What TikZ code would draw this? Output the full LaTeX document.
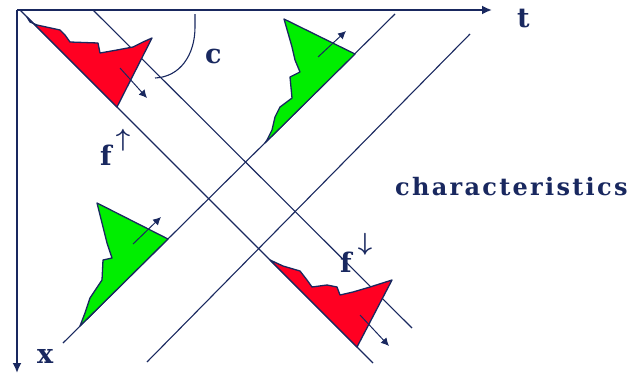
\documentclass[tikz,border=0pt]{standalone}
\usepackage{fontspec}
\setmainfont{DejaVu Serif}
\usetikzlibrary{arrows.meta}
\definecolor{navy}{RGB}{25,40,95}
\definecolor{redfill}{RGB}{255,0,34}
\definecolor{greenfill}{RGB}{0,238,0}
\tikzset{
  axisline/.style={navy, line width=1.8pt, -{Latex[length=10pt,width=9pt]}},
  charline/.style={navy, line width=1.1pt},
  redtri/.style={fill=redfill, draw=navy, line width=1.3pt, line join=round},
  greentri/.style={fill=greenfill, draw=navy, line width=1.3pt, line join=round},
  motion/.style={navy, line width=1pt, -{Latex[length=8pt,width=8pt]}},
  lbl/.style={text=navy, font=\fontsize{27}{27}\selectfont\bfseries, inner sep=0pt},
  arrlbl/.style={text=navy, font=\fontsize{26}{26}\selectfont\boldmath, inner sep=0pt},
}
\begin{document}
\begin{tikzpicture}[x=1pt,y=-1pt]
\useasboundingbox (0,0) rectangle (632,375);
% axes
\coordinate (O) at (17,10);
\coordinate (T) at (492,10);
\coordinate (X) at (17,373);
\draw[axisline] (O) -- (T);
\draw[axisline] (O) -- (X);
% characteristics
\coordinate (L1a) at (20,10);   \coordinate (L1b) at (373,363);
\coordinate (L2a) at (93,10);   \coordinate (L2b) at (412,328);
\coordinate (L3a) at (395,14);  \coordinate (L3b) at (63,343);
\coordinate (L4a) at (470,34);  \coordinate (L4b) at (147,362);
\draw[charline] (L1a) -- (L1b);
\draw[charline] (L2a) -- (L2b);
\draw[charline] (L3a) -- (L3b);
\draw[charline] (L4a) -- (L4b);
% arc c
\draw[charline] (195,14) -- (195,27) .. controls (195,55) and (180,77) .. (155,78);
% red triangle upper
\draw[redtri] (27,17) -- (30,22) -- (37,25) -- (60,30) -- (65,35) -- (70,42) -- (98,43)
  -- (100,53) -- (117,50) -- (133,47) -- (143,42) -- (152,38) -- (117,107) -- cycle;
\draw[motion] (120,68) -- (147,98);
% red triangle lower
\draw[redtri] (270,260) -- (283,266) -- (300,271) -- (307,280) -- (312,287) -- (327,285)
  -- (337,287) -- (340,295) -- (353,292) -- (370,287) -- (392,280) -- (357,347) -- cycle;
\draw[motion] (360,315) -- (389,346);
% green triangle upper
\draw[greentri] (284,19) -- (355,54) -- (265,143) -- (267,140) -- (272,130) -- (275,117)
  -- (280,107) -- (292,98) -- (290,77) -- (300,72) -- (295,60) -- (292,47) -- cycle;
\draw[motion] (318,57) -- (346,31);
% green triangle lower
\draw[greentri] (97,203) -- (168,239) -- (80,326) -- (85,313) -- (90,298) -- (102,280)
  -- (103,260) -- (112,258) -- (107,243) -- (103,227) -- cycle;
\draw[motion] (133,244) -- (161,217);
% labels
\node[lbl, anchor=base west] (tl) at (517,27) {t};
\node[lbl, anchor=base west] (xl) at (37,363) {x};
\node[lbl, anchor=base west] (cl) at (205,63) {c};
\node[lbl, anchor=base west] (fu) at (100,165) {f};
\node[arrlbl] (fua) at (123,140) {$\uparrow$};
\node[lbl, anchor=base west] (fd) at (340,272) {f};
\node[arrlbl] (fda) at (365,244) {$\downarrow$};
\node[text=navy, inner sep=0pt, anchor=base west,
      font=\fontsize{24}{24}\selectfont\bfseries\addfontfeature{LetterSpace=9.5}]
      (ch) at (395,195) {characteristics};
\end{tikzpicture}
\end{document}
